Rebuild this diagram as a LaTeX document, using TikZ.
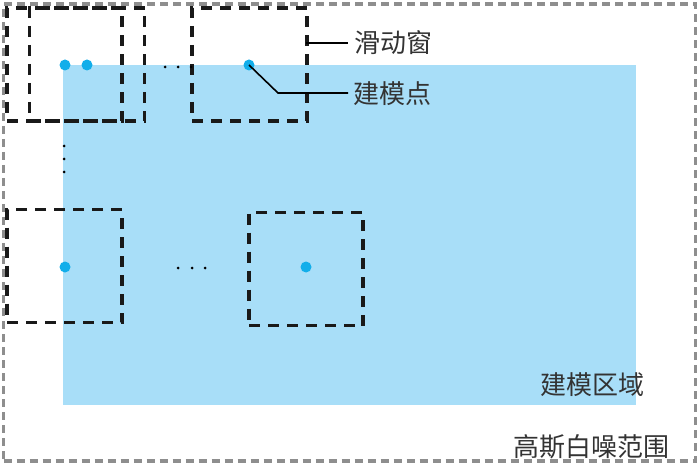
\documentclass[tikz,border=0pt]{standalone}
\usepackage{fontspec}
\newfontfamily\cjk{Noto Sans CJK SC}
\definecolor{areablue}{HTML}{A8DEF8}
\definecolor{dotblue}{HTML}{12AEEA}
\definecolor{noisegray}{HTML}{8E8E8E}
\tikzset{
  win/.style={draw=black!90, line width=3.4pt, dash pattern=on 11pt off 8pt, minimum width=115pt, minimum height=113pt, inner sep=0pt},
  pt/.style={circle, fill=dotblue, minimum size=11pt, inner sep=0pt},
  sdot/.style={circle, fill=black, minimum size=3pt, inner sep=0pt},
  lbl/.style={font=\cjk\fontsize{26}{26}\selectfont, text=black!80, inner sep=0pt},
  leader/.style={draw=black, line width=1.6pt}
}
\begin{document}
\begin{tikzpicture}[x=1pt,y=-1pt]
\useasboundingbox (0,0) rectangle (700,470);
% noise range
\node[draw=noisegray, line width=3.2pt, dash pattern=on 8pt off 5pt, minimum width=692pt, minimum height=457pt, inner sep=0pt] (noise) at (349.5,232.5) {};
% modelling area
\node[fill=areablue, minimum width=573pt, minimum height=340pt, inner sep=0pt] (area) at (349.5,235) {};
% windows
\node[win] (w1) at (64.5,64.5) {};
\node[win] (w2) at (87,64.5) {};
\node[win] (w3) at (249.5,64.5) {};
\node[win] (w4) at (64.5,266) {};
\node[win, minimum width=114pt] (w5) at (306,269) {};
% modelling points
\node[pt] (p1) at (65,65) {};
\node[pt] (p2) at (87,65) {};
\node[pt] (p3) at (249,65) {};
\node[pt] (p4) at (65,267) {};
\node[pt] (p5) at (306,267) {};
% ellipsis dots
\node[sdot] (h1) at (165,67) {};
\node[sdot] (h2) at (178,67) {};
\node[sdot] (h3) at (191,67) {};
\node[sdot] (v1) at (64,146) {};
\node[sdot] (v2) at (64,159) {};
\node[sdot] (v3) at (64,172) {};
\node[sdot] (b1) at (178,268) {};
\node[sdot] (b2) at (192,268) {};
\node[sdot] (b3) at (205,268) {};
% labels
\node[lbl, anchor=west] (l1) at (354,43) {滑动窗};
\node[lbl, anchor=west] (l2) at (353,94) {建模点};
\node[lbl] (l3) at (592,385) {建模区域};
\node[lbl] (l4) at (591,447) {高斯白噪范围};
% leaders
\coordinate (k1) at (306,43);
\coordinate (k2) at (278,93);
\coordinate (e1) at (348,43);
\coordinate (e2) at (348,93);
\draw[leader] (k1) -- (e1);
\draw[leader] (p3.center) -- (k2) -- (e2);
\end{tikzpicture}
\end{document}
